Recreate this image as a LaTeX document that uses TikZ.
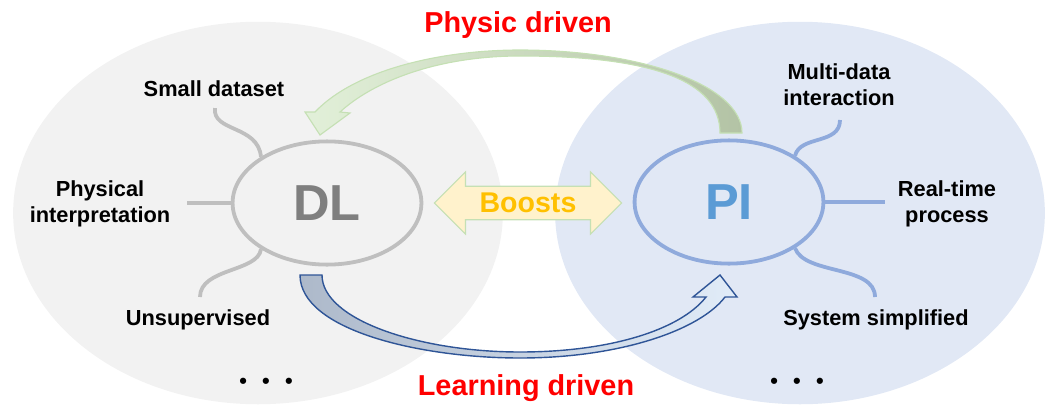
\documentclass[tikz,border=0pt]{standalone}
\usepackage{fontspec}
\setmainfont{Liberation Sans}
\usetikzlibrary{shapes.geometric,shapes.arrows}

\definecolor{dlback}{HTML}{F2F2F2}
\definecolor{piback}{HTML}{E1E8F5}
\definecolor{dlline}{HTML}{BFBFBF}
\definecolor{dltext}{HTML}{7F7F7F}
\definecolor{piline}{HTML}{8FAADC}
\definecolor{pitext}{HTML}{5B9BD5}
\definecolor{boostfill}{HTML}{FFF2CC}
\definecolor{boostline}{HTML}{C5E0B4}
\definecolor{boosttext}{HTML}{FFC000}
\definecolor{physdark}{HTML}{B3C3A5}
\definecolor{physlight}{HTML}{E2F0D9}
\definecolor{physline}{HTML}{C5E0B4}
\definecolor{learndark}{HTML}{ADB9CA}
\definecolor{learnlight}{HTML}{E1ECF8}
\definecolor{learnline}{HTML}{2F5597}

\begin{document}
\begin{tikzpicture}[x=0.025cm, y=-0.025cm,
    core/.style={ellipse, line width=2.7pt, minimum width=4.72cm, minimum height=3.08cm,
        font=\fontsize{36}{40}\selectfont\bfseries},
    spoke/.style={line width=2.7pt},
    lbl/.style={font=\fontsize{15.5}{18.4}\selectfont\bfseries, align=center},
    drive/.style={font=\fontsize{20.5}{24}\selectfont\bfseries, text=red}]
    \useasboundingbox (0,0) rectangle (1046,408);

    \fill[dlback] (258,213) ellipse [x radius=6.12cm, y radius=4.78cm];
    \fill[piback] (800,213) ellipse [x radius=6.12cm, y radius=4.78cm];

    % curved block arrows
    \draw[physline, line width=0.8pt, left color=physlight, right color=physdark]
        (315,112) .. controls (355,70) and (440,50) .. (520,50)
        .. controls (640,50) and (742,85) .. (742,133)
        -- (720,133)
        .. controls (720,80) and (650,56) .. (520,56)
        .. controls (440,56) and (375,80) .. (340,112)
        -- (350,113) -- (320,135) -- (305,112) -- cycle;
    \draw[learnline, line width=1pt, left color=learndark, right color=learnlight]
        (300,275) .. controls (300,330) and (420,358) .. (520,358)
        .. controls (620,358) and (700,330) .. (725,297)
        -- (737,297) -- (720,275) -- (693,297) -- (706,297)
        .. controls (680,330) and (610,352) .. (520,352)
        .. controls (420,352) and (322,320) .. (322,275) -- cycle;

    \node[core, draw=dlline, text=dltext] (dl) at (327,203) {DL};
    \node[core, draw=piline, text=pitext] (pi) at (729,202) {PI};

    \node[double arrow, draw=boostline, fill=boostfill, text=boosttext, line width=0.8pt,
        double arrow head extend=0.36cm, inner xsep=0pt, inner ysep=4.4pt,
        minimum height=4.68cm, font=\fontsize{20.3}{24}\selectfont\bfseries]
        (boost) at (528,203) {Boosts};

    \coordinate (s1) at (215,108);
    \coordinate (s2) at (187,203);
    \coordinate (s3) at (200,297);
    \coordinate (s4) at (840,120);
    \coordinate (s5) at (885,202);
    \coordinate (s6) at (875,297);
    \draw[spoke, dlline] (dl.145) .. controls (258,125) and (212,132) .. (s1);
    \draw[spoke, dlline] (dl.west) -- (s2);
    \draw[spoke, dlline] (dl.215) .. controls (258,272) and (200,268) .. (s3);
    \draw[spoke, piline] (pi.35) .. controls (800,135) and (840,145) .. (s4);
    \draw[spoke, piline] (pi.east) -- (s5);
    \draw[spoke, piline] (pi.-35) .. controls (805,275) and (875,265) .. (s6);

    \node[lbl] (small) at (214,89) {Small dataset};
    \node[lbl] (phys) at (100,204) {Physical\\interpretation};
    \node[lbl] (unsup) at (198,320) {Unsupervised};
    \node[lbl] (dotsl) at (266,383) {\textbullet\hspace{0.7em}\textbullet\hspace{0.7em}\textbullet};
    \node[lbl] (multi) at (839,85) {Multi-data\\interaction};
    \node[lbl] (realt) at (947,204) {Real-time\\process};
    \node[lbl] (simpl) at (876,320) {System simplified};
    \node[lbl] (dotsr) at (797,383) {\textbullet\hspace{0.7em}\textbullet\hspace{0.7em}\textbullet};

    \node[drive] (physic) at (518,25) {Physic driven};
    \node[drive] (learn) at (526,388) {Learning driven};
\end{tikzpicture}
\end{document}
